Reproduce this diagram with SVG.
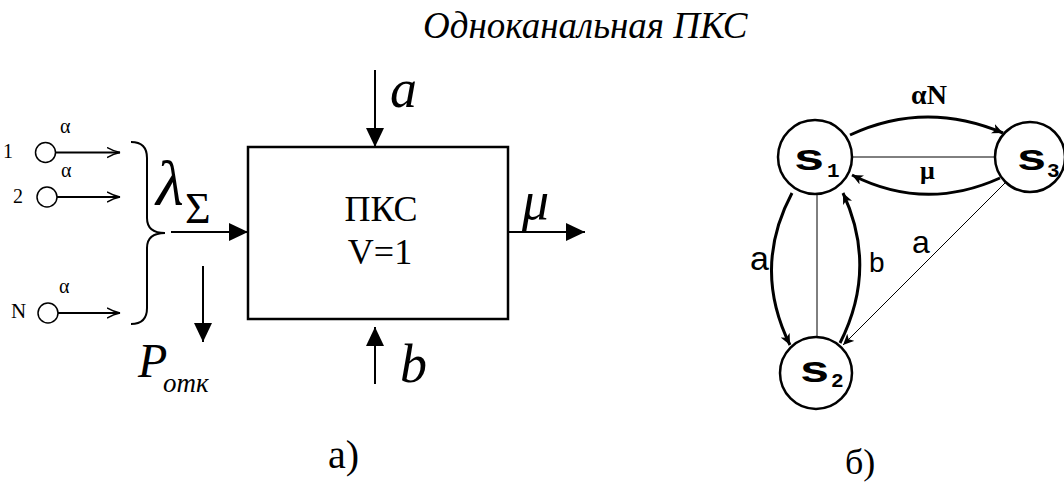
<svg xmlns="http://www.w3.org/2000/svg" width="1064" height="482" viewBox="0 0 1064 482">
<defs>
<style>
.serif{font-family:"Liberation Serif","Times New Roman",serif;fill:#000}
.it{font-style:italic}
.sans{font-family:"Liberation Sans",Arial,sans-serif;fill:#000}
.mono{font-family:"Liberation Mono","Courier New",monospace;font-weight:bold;fill:#000}
.ln{stroke:#000;stroke-width:2;fill:none}
.thin{stroke:#000;stroke-width:1;fill:none}
.thick{stroke:#000;stroke-width:3;fill:none}
.node{stroke:#000;stroke-width:2.5;fill:#fff}
.src{stroke:#000;stroke-width:1.5;fill:#fff}
</style>
<marker id="fa" viewBox="0 0 19 18" refX="19" refY="9" markerWidth="19" markerHeight="18" orient="auto" markerUnits="userSpaceOnUse">
<path d="M0,0 L19,9 L0,18 z" fill="#000"/>
</marker>
<marker id="oa" viewBox="0 0 14 12" refX="13" refY="6" markerWidth="14" markerHeight="12" orient="auto" markerUnits="userSpaceOnUse">
<path d="M0,1 Q7,5 13,6 Q7,7 0,11" fill="none" stroke="#000" stroke-width="1.5"/>
</marker>
<marker id="ga" viewBox="0 0 12 10" refX="11" refY="5" markerWidth="12" markerHeight="10" orient="auto" markerUnits="userSpaceOnUse">
<path d="M0,0 L11,5 L0,10 L3,5 z" fill="#000"/>
</marker>
</defs>
<rect width="1064" height="482" fill="#fff"/>

<text class="serif it" x="423" y="38" font-size="37">Одноканальная ПКС</text>

<g id="sources">
<circle class="src" cx="45.5" cy="152.5" r="10"/>
<circle class="src" cx="47" cy="197" r="10"/>
<circle class="src" cx="48" cy="313" r="10"/>
<text class="serif" x="3" y="158" font-size="20">1</text>
<text class="serif" x="13" y="203" font-size="20">2</text>
<text class="serif" x="11" y="318" font-size="21">N</text>
<text class="serif" x="60" y="133" font-size="20">α</text>
<text class="serif" x="61" y="177" font-size="20">α</text>
<text class="serif" x="59" y="293" font-size="20">α</text>
</g>

<g id="brace">
<path class="ln" d="M131,142 Q147,142 147,158 L147,218 Q147,233 165,233 Q147,233 147,248 L147,308 Q147,324 131,324"/>
</g>

<g id="pks">
<rect x="248" y="147" width="260" height="172" fill="#fff" stroke="#000" stroke-width="2.5"/>
<text class="serif" x="381" y="221" font-size="36" text-anchor="middle">ПКС</text>
<text class="serif" x="380" y="264" font-size="36" text-anchor="middle">V=1</text>
</g>

<g id="labels-a">
<text class="serif it" x="156" y="205" font-size="64">λ</text>
<text class="serif" x="185" y="223" font-size="44">Σ</text>
<text class="serif it" x="390" y="107" font-size="54">a</text>
<text class="serif it" x="400" y="382" font-size="54">b</text>
<text class="serif it" x="522" y="219" font-size="54">μ</text>
<text class="serif it" x="138" y="377" font-size="48">P</text>
<text class="serif it" x="163" y="392" font-size="27">отк</text>
<text class="serif" x="328" y="468" font-size="40">а)</text>
</g>

<g id="connectors">
<line class="ln" x1="56" y1="152.5" x2="120" y2="152.5" marker-end="url(#oa)"/>
<line class="ln" x1="57" y1="197" x2="120" y2="197" marker-end="url(#oa)"/>
<line class="ln" x1="58" y1="313" x2="120" y2="313" marker-end="url(#oa)"/>
<line class="ln" x1="171" y1="232" x2="248" y2="232" marker-end="url(#fa)"/>
<line class="ln" x1="375" y1="70" x2="375" y2="147" marker-end="url(#fa)"/>
<line class="ln" x1="375" y1="384" x2="375" y2="327" marker-end="url(#fa)"/>
<line class="ln" x1="508" y1="232" x2="585" y2="232" marker-end="url(#fa)"/>
<line class="ln" x1="203" y1="266" x2="203" y2="342" marker-end="url(#fa)"/>

<line class="thin" x1="852" y1="157" x2="995" y2="157"/>
<line class="thin" x1="817" y1="194" x2="817" y2="337"/>
<path class="thin" d="M1005,183 L843,345" marker-end="url(#ga)"/>
<path class="thick" d="M850,135 Q925,100 1003,133" marker-end="url(#ga)"/>
<path class="thick" d="M1000,178 Q925,212 852,175" marker-end="url(#ga)"/>
<path class="thick" d="M792,193 Q752,268 790,345" marker-end="url(#ga)"/>
<path class="thick" d="M840,343 Q878,268 843,193" marker-end="url(#ga)"/>
</g>

<g id="s1">
<circle class="node" cx="815" cy="157" r="37"/>
<text class="mono" x="793" y="170" font-size="36" textLength="32" lengthAdjust="spacingAndGlyphs">s</text>
<text class="mono" x="827" y="177" font-size="21">1</text>
</g>
<g id="s3">
<circle class="node" cx="1030" cy="157" r="35"/>
<text class="mono" x="1016" y="170" font-size="36" textLength="31" lengthAdjust="spacingAndGlyphs">s</text>
<text class="mono" x="1047" y="177" font-size="21">3</text>
</g>
<g id="s2">
<circle class="node" cx="816" cy="373" r="36"/>
<text class="mono" x="799" y="382" font-size="36" textLength="31" lengthAdjust="spacingAndGlyphs">s</text>
<text class="mono" x="831" y="387" font-size="21">2</text>
</g>

<g id="labels-b">
<text class="serif" x="911" y="104" font-size="28" font-weight="bold">αN</text>
<text class="serif" x="920" y="179" font-size="26" font-weight="bold">μ</text>
<text class="sans" x="750" y="270" font-size="34">a</text>
<text class="sans" x="869" y="272" font-size="28">b</text>
<text class="sans" x="912" y="253" font-size="32">a</text>
<text class="serif" x="845" y="474" font-size="36">б)</text>
</g>
</svg>
